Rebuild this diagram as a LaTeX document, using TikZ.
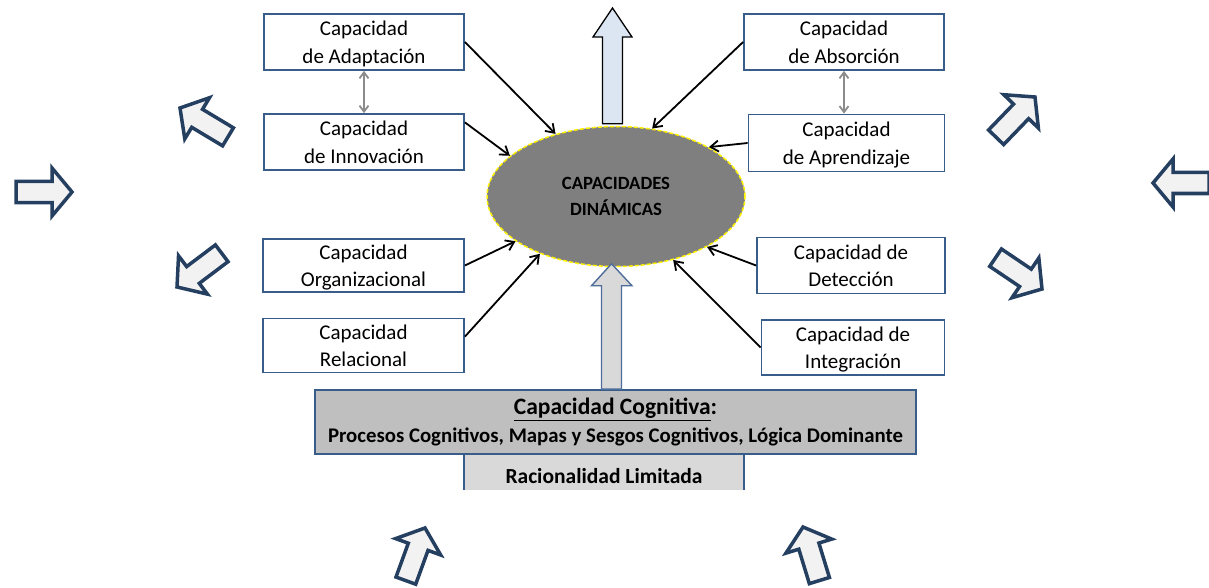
\documentclass[tikz,border=0pt]{standalone}
\usepackage{fontspec}
\setmainfont{Carlito}
\usetikzlibrary{arrows.meta,calc,shapes.geometric}
\definecolor{rahmen}{HTML}{385D8A}
\definecolor{rahmenhell}{HTML}{4F6D9A}
\definecolor{pfeilblau}{HTML}{243F60}
\definecolor{hellblau}{HTML}{DCE6F2}
\definecolor{hellgrau}{HTML}{D9D9D9}
\definecolor{mittelgrau}{HTML}{BFBFBF}
\definecolor{ellgrau}{HTML}{7F7F7F}
\begin{document}
\begin{tikzpicture}[x=1pt,y=-1pt,
    kasten/.style={draw=rahmen,line width=1.8pt,fill=white,align=center,inner sep=0pt,text depth=0pt,font=\fontsize{21}{27.5}\selectfont},
    pfeil/.style={line width=1.8pt,-{Straight Barb[length=8pt,width=11pt]}},
    doppel/.style={draw=black!45,line width=1.8pt,{Straight Barb[length=6pt,width=9pt]}-{Straight Barb[length=6pt,width=9pt]}},
    hohl/.style={draw=pfeilblau,fill=black!5,line width=3.5pt,line join=miter}]
    \useasboundingbox (0,0) rectangle (1209,588);
    % Ellipse in der Mitte
    \node[ellipse,draw=yellow,dash pattern=on 4pt off 2pt,line width=1.5pt,fill=ellgrau,minimum width=258pt,minimum height=140pt,inner sep=0pt,align=center,font=\bfseries\fontsize{18.7}{26}\selectfont] (caps) at (616,196.5) {CAPACIDADES\\DINÁMICAS};
    % Kaesten links
    \node[kasten,minimum width=200pt,minimum height=56pt] (adapt) at (364,42) {Capacidad\\de Adaptación};
    \node[kasten,minimum width=200pt,minimum height=56pt] (innov) at (364,142) {Capacidad\\de Innovación};
    \node[kasten,minimum width=201pt,minimum height=53pt] (organ) at (363.5,265.5) {Capacidad\\Organizacional};
    \node[kasten,minimum width=201pt,minimum height=54pt] (relac) at (363.5,345.5) {Capacidad\\Relacional};
    % Kaesten rechts
    \node[kasten,minimum width=200pt,minimum height=56pt] (absor) at (844,42) {Capacidad\\de Absorción};
    \node[kasten,minimum width=196pt,minimum height=57pt] (apren) at (846.5,143) {Capacidad\\de Aprendizaje};
    \node[kasten,minimum width=188pt,minimum height=56pt] (detec) at (851,265.5) {Capacidad de\\Detección};
    \node[kasten,minimum width=183pt,minimum height=55pt] (integ) at (853,347.5) {Capacidad de\\Integración};
    % Pfeile zur Ellipse
    \draw[pfeil] (adapt.east) -- (caps.134);
    \draw[pfeil] (innov.11) -- (caps.159);
    \draw[pfeil] (organ.east) -- (caps.204);
    \draw[pfeil] (relac.5) -- (caps.217);
    \draw[pfeil] (absor.west) -- (caps.62);
    \draw[pfeil] (apren.west) -- (caps.28);
    \draw[pfeil] (detec.west) -- (caps.-29);
    \draw[pfeil] (integ.west) -- (caps.-48);
    \draw[doppel] (adapt.south) -- (innov.north);
    \draw[doppel] (absor.south) -- (absor.south |- apren.north);
    % Kaesten unten
    \node[fill=hellgrau,minimum width=280pt,minimum height=36pt,inner sep=0pt,text height=22pt,text depth=0pt,font=\bfseries\fontsize{21.5}{24}\selectfont] (rac) at (604,472) {Racionalidad Limitada};
    \draw[rahmen,line width=1.8pt] (rac.north west) -- (rac.south west) (rac.north east) -- (rac.south east);
    \node[draw=rahmen,fill=mittelgrau,line width=1.8pt,minimum width=601pt,minimum height=64pt,inner sep=0pt,align=center,font=\bfseries\fontsize{20.8}{28}\selectfont] (cog) at (615.5,422)
      {{\fontsize{23.5}{28}\selectfont\underline{Capacidad Cognitiva}:}\\Procesos Cognitivos, Mapas y Sesgos Cognitivos, Lógica Dominante};
    % Blockpfeil von unten
    \coordinate (spitze) at ($(caps.south)+(-4.5,-3.5)$);
    \draw[draw=rahmenhell,fill=hellgrau,line width=1.4pt] (spitze) -- ++(20.5,22) -- ++(-10.5,0) -- ($(spitze|-cog.north)+(10,0)$) -- ($(spitze|-cog.north)+(-10,0)$) -- ($(spitze)+(-10,22)$) -- ++(-10,0) -- cycle;
    % Blockpfeil nach oben
    \coordinate (oben) at (612.5,8);
    \draw[fill=hellblau,line width=1.3pt] (oben) -- ++(19.5,29) -- ++(-9.5,0) -- ($(oben|-caps.north)+(10,-2)$) -- ($(oben|-caps.north)+(-10,-2)$) -- ($(oben)+(-10,29)$) -- ++(-9.5,0) -- cycle;
    % Hohle Pfeile rundherum
    \foreach \x/\y/\w in {72/192/0,180/108/149,177/287/217,1035/97/46,1153/183/180,1042/289/-34,425/528/70,803/527/107}
    \draw[hohl,shift={(\x,\y)},rotate=\w] (0,0) -- (-20,-24) -- (-20,-10.5) -- (-56,-10.5) -- (-56,10.5) -- (-20,10.5) -- (-20,24) -- cycle;
  \end{tikzpicture}
\end{document}
